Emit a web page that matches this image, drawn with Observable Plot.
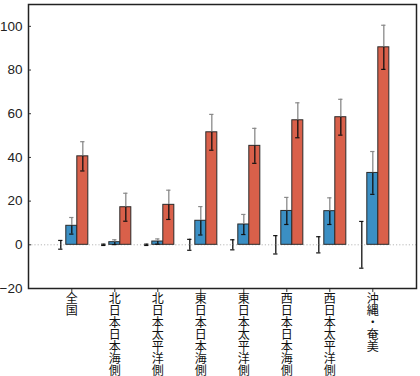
<!DOCTYPE html>
<html>
<head>
<meta charset="utf-8">
<script src="https://cdn.jsdelivr.net/npm/d3@7"></script>
<script src="https://cdn.jsdelivr.net/npm/@observablehq/plot@0.6"></script>
<style>
  body { margin: 0; background: #fff; }
  #chart svg { display: block; }
</style>
</head>
<body>
<div id="chart"></div>
<script>
// Regions (x axis), drawn one character per line
const categories = ["全国", "北日本日本海側", "北日本太平洋側", "東日本日本海側", "東日本太平洋側", "西日本日本海側", "西日本太平洋側", "沖縄・奄美"];

// Three series per region: a zero baseline with spread, then blue and red bars
const seriesKeys = ["base", "blue", "red"];

const baseValues = [0, 0, 0, 0, 0, 0, 0, 0];
const baseErrors = [2.0, 0.3, 0.3, 2.5, 2.3, 4.2, 3.7, 10.7];

const blueValues = [8.7, 1.2, 1.5, 11.0, 9.3, 15.5, 15.4, 32.9];
const blueErrors = [3.8, 1.1, 1.2, 6.5, 4.6, 6.2, 6.1, 9.8];

const redValues = [40.5, 17.2, 18.3, 51.5, 45.3, 57.0, 58.4, 90.4];
const redErrors = [6.7, 6.4, 6.7, 8.2, 8.0, 8.0, 8.2, 10.1];

const yTicks = [-20, 0, 20, 40, 60, 80, 100];

// Grouped layout on a linear x scale: region i is centred on x = i,
// each series takes a slot of width barW, the middle slot on the centre.
const barW = 0.256;
const capHalf = 0.05;

const rows = [];
categories.forEach((c, i) => {
  const vals = [baseValues[i], blueValues[i], redValues[i]];
  const errs = [baseErrors[i], blueErrors[i], redErrors[i]];
  seriesKeys.forEach((s, k) => {
    const mid = i + (k - 1) * barW;
    rows.push({region: c, series: s, value: vals[k], err: errs[k], mid, x1: mid - barW / 2, x2: mid + barW / 2});
  });
});
const bars = rows.filter(d => d.series !== "base");

const fill = {blue: "#3b8fc4", red: "#d9604a"};
const upperStroke = d => d.series === "base" ? "#111" : "#8a8a8a";

const chart = Plot.plot({
  width: 420,
  height: 376,
  marginLeft: 28,
  marginRight: 4,
  marginTop: 4,
  marginBottom: 88,
  style: {background: "#fff", fontFamily: "'Liberation Sans', Arial, sans-serif"},
  x: {domain: [-1.007, 8.016], axis: null},
  y: {domain: [-20, 110], axis: null},
  marks: [
    // dotted zero line across the whole panel
    Plot.ruleY([0], {stroke: "#b8b8b8", strokeDasharray: "1.2,2", strokeWidth: 1}),
    Plot.rectY(bars, {
      x1: "x1", x2: "x2", y1: 0, y2: "value",
      fill: d => fill[d.series], stroke: "#2a2a2a", strokeWidth: 1
    }),
    // error bars: part above the value in grey, part within the bar dark
    Plot.ruleX(rows, {x: "mid", y1: "value", y2: d => d.value + d.err, stroke: upperStroke, strokeWidth: 1.3}),
    Plot.ruleX(rows, {x: "mid", y1: d => d.value - d.err, y2: "value", stroke: "#111", strokeWidth: 1.3}),
    Plot.ruleY(rows, {
      y: d => d.value + d.err, x1: d => d.mid - capHalf, x2: d => d.mid + capHalf,
      stroke: upperStroke, strokeWidth: 1.2
    }),
    Plot.ruleY(rows, {
      y: d => d.value - d.err, x1: d => d.mid - capHalf, x2: d => d.mid + capHalf,
      stroke: "#111", strokeWidth: 1.2
    }),
    Plot.axisY({
      ticks: yTicks, tickSize: -3, tickPadding: 9,
      fontSize: 13.5, stroke: "#333", fill: "#222", label: null
    }),
    Plot.axisX({
      ticks: d3.range(categories.length), tickSize: 4, tickPadding: 2, stroke: "#333", fill: "#111",
      fontSize: 12, fontFamily: "'Noto Sans CJK JP', sans-serif", lineHeight: 1,
      tickFormat: i => Array.from(categories[i]).join("\n"), label: null
    }),
    Plot.frame({stroke: "#222", strokeWidth: 1.5})
  ]
});

document.getElementById("chart").appendChild(chart);
</script>
</body>
</html>
